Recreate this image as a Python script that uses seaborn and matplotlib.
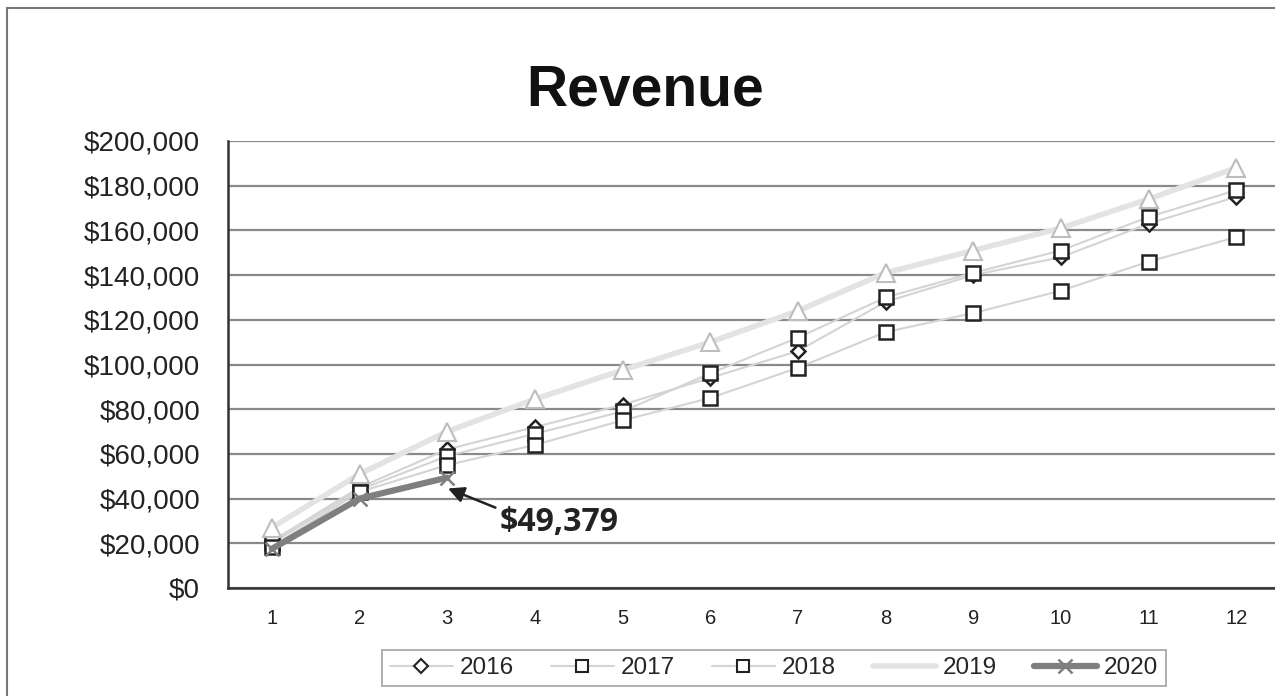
import numpy as np
import pandas as pd
import matplotlib
matplotlib.use("Agg")
import matplotlib.pyplot as plt
import seaborn as sns
from matplotlib.lines import Line2D
from matplotlib.patches import Rectangle
from matplotlib.ticker import FuncFormatter

# revenue per month
months = [1, 2, 3, 4, 5, 6, 7, 8, 9, 10, 11, 12]
rev_2016 = [21000, 45000, 62000, 72000, 82000, 94000, 106000, 128000, 140000, 148000, 163000, 175000]
rev_2017 = [20000, 44000, 59000, 69000, 79000, 96000, 112000, 130000, 141000, 151000, 166000, 178000]
rev_2018 = [18500, 43000, 55000, 64000, 75000, 85000, 98500, 114500, 123000, 133000, 146000, 157000]
rev_2019 = [27000, 51000, 70000, 84500, 97500, 110000, 124000, 141000, 151000, 161000, 174000, 188000]
months_2020 = [1, 2, 3]
rev_2020 = [17500, 40000, 49379]

sns.set_style("white")
plt.rcParams["font.family"] = ["Liberation Sans", "DejaVu Sans"]

fig = plt.figure(figsize=(12.75, 6.96), dpi=100)
ax = fig.add_axes([228 / 1275, 1 - 588 / 696, 1052 / 1275, 447 / 696])

df = pd.DataFrame({"month": months, "2016": rev_2016, "2017": rev_2017,
                   "2018": rev_2018, "2019": rev_2019})
df20 = pd.DataFrame({"month": months_2020, "2020": rev_2020})

thin = "#d4d4d4"
sns.lineplot(data=df, x="month", y="2016", ax=ax, color=thin, lw=1.5, marker="D",
             markersize=7, markerfacecolor="white", markeredgecolor="#222222", markeredgewidth=1.8, zorder=3)
sns.lineplot(data=df, x="month", y="2017", ax=ax, color=thin, lw=1.5, marker="s",
             markersize=10, markerfacecolor="white", markeredgecolor="#222222", markeredgewidth=1.8, zorder=3)
sns.lineplot(data=df, x="month", y="2018", ax=ax, color=thin, lw=1.5, marker="s",
             markersize=10, markerfacecolor="white", markeredgecolor="#222222", markeredgewidth=1.8, zorder=3)
sns.lineplot(data=df, x="month", y="2019", ax=ax, color="#e3e3e3", lw=4, marker="^",
             markersize=13, markerfacecolor="white", markeredgecolor="#bdbdbd", markeredgewidth=1.5, zorder=3)
sns.lineplot(data=df20, x="month", y="2020", ax=ax, color="#7f7f7f", lw=4.5, marker="x",
             markersize=10, markeredgecolor="#7f7f7f", markeredgewidth=1.8, zorder=4)

ax.set_xlim(0.5, 12.5)
ax.set_ylim(0, 200000)
ax.set_xticks(months)
ax.set_xticks(np.arange(0.5, 12.5, 1), minor=True)
ax.set_yticks(np.arange(0, 200001, 20000))
ax.yaxis.set_major_formatter(FuncFormatter(lambda v, p: f"${v:,.0f}"))
ax.tick_params(axis="x", which="major", length=0, pad=15, labelsize=14.5, labelcolor="#222222")
ax.tick_params(axis="x", which="minor", length=6, width=1.2, color="#333333", direction="out")
ax.tick_params(axis="y", length=8, width=1.2, color="#333333", direction="out", pad=12,
               labelsize=20, labelcolor="#222222")
ax.set_xlabel("")
ax.set_ylabel("")
ax.grid(axis="y", color="#8a8a8a", lw=1.6, zorder=0)
ax.set_axisbelow(True)
for s in ["top", "right"]:
    ax.spines[s].set_visible(False)
for s in ["left", "bottom"]:
    ax.spines[s].set_color("#333333")
    ax.spines[s].set_linewidth(1.8)

# callout for the latest 2020 value
ax.annotate("", xy=(2.98, 45000), xytext=(3.58, 35500),
            arrowprops=dict(arrowstyle="-|>", color="#222222", lw=1.8, mutation_scale=24))
ax.text(3.6, 29500, f"${rev_2020[-1]:,}", ha="left", va="center", fontsize=23,
        fontweight="bold", family=["Open Sans", "DejaVu Sans"], color="#222222")

fig.text(645 / 1275, 1 - 90 / 696, "Revenue", ha="center", va="center",
         fontsize=41, fontweight="bold", color="#111111")

handles = [
    Line2D([], [], color=thin, lw=1.5, marker="D", markersize=7, markerfacecolor="white",
           markeredgecolor="#222222", markeredgewidth=1.5),
    Line2D([], [], color=thin, lw=1.5, marker="s", markersize=9, markerfacecolor="white",
           markeredgecolor="#222222", markeredgewidth=1.5),
    Line2D([], [], color=thin, lw=1.5, marker="s", markersize=9, markerfacecolor="white",
           markeredgecolor="#222222", markeredgewidth=1.5),
    Line2D([], [], color="#e3e3e3", lw=4),
    Line2D([], [], color="#7f7f7f", lw=4.5, marker="x", markersize=10,
           markeredgecolor="#7f7f7f", markeredgewidth=1.8),
]
leg = fig.legend(handles, ["2016", "2017", "2018", "2019", "2020"], loc="center",
                 bbox_to_anchor=(774 / 1275, 1 - 668 / 696), ncol=5, fontsize=17.5,
                 frameon=True, fancybox=False, handlelength=2.6, handletextpad=0.3,
                 columnspacing=1.5, borderpad=0.3)
leg.get_frame().set_edgecolor("#8a8a8a")
leg.get_frame().set_linewidth(1.2)

fig.patches.append(Rectangle((7 / 1275, -0.05), 2.0, 1.05 - 8 / 696, transform=fig.transFigure,
                             fill=False, edgecolor="#777777", lw=1.5))

fig.savefig("out.png", dpi=100, facecolor="white")
